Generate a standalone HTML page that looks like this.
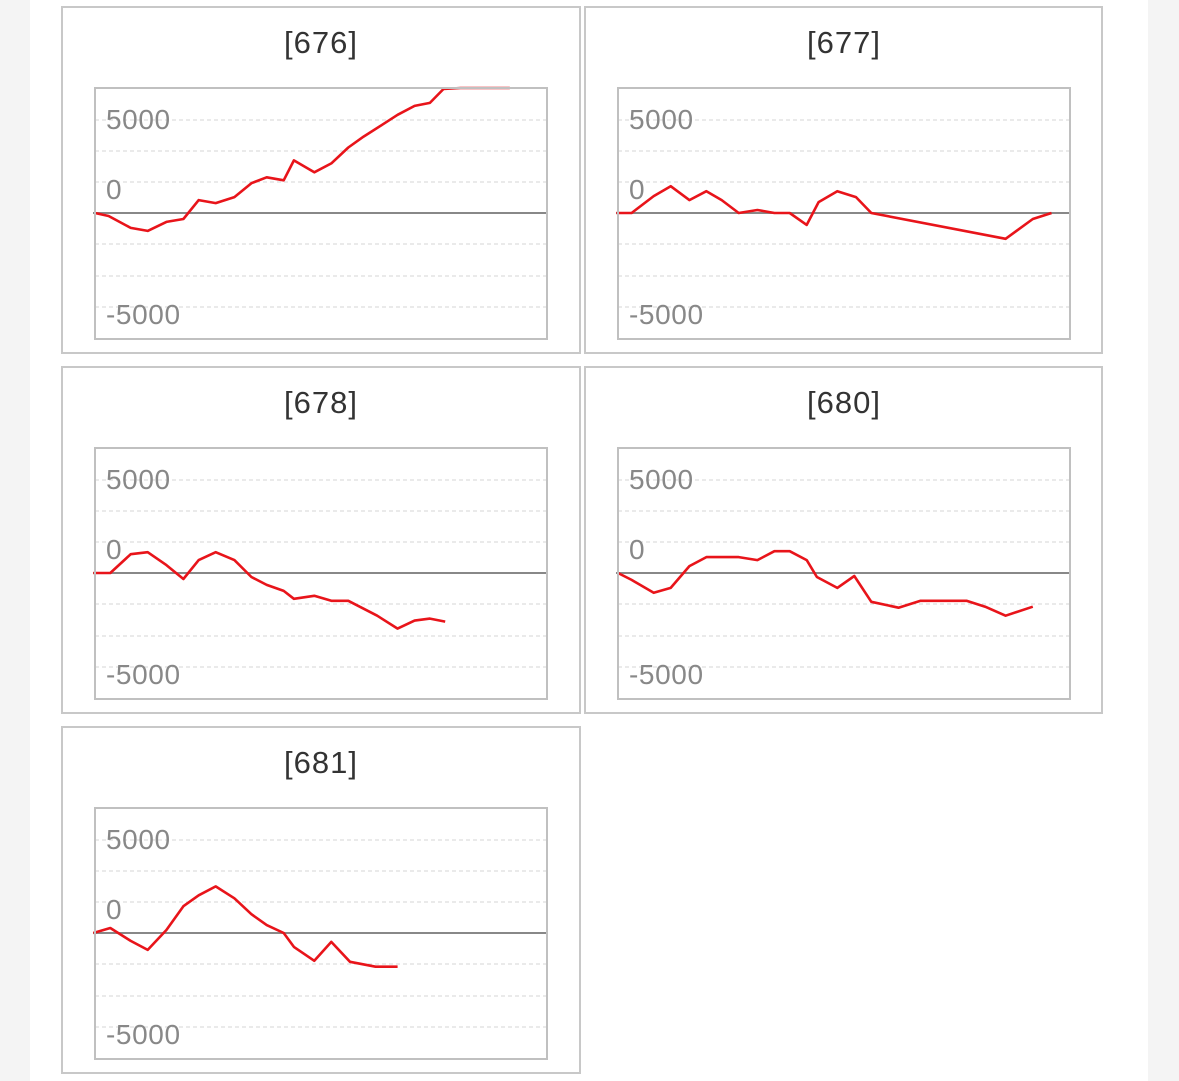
<!DOCTYPE html>
<html><head><meta charset="utf-8">
<style>
html,body{margin:0;padding:0;}
body{width:1179px;height:1081px;background:#f4f4f4;position:relative;overflow:hidden;font-family:"Liberation Sans",sans-serif;}
#main{position:absolute;left:30px;top:0;width:1118px;height:1081px;background:#fff;}
</style></head>
<body>
<div id="main"></div>
<svg id="svg" width="1179" height="1081" style="position:absolute;left:0;top:0"></svg>
<script>
const titles = ["[676]","[677]","[678]","[680]","[681]"];
const tickLabels = ["5000","0","-5000"];
const days676 = [0,0.8,2.1,3.1,4.2,5.2,6.1,7.1,8.2,9.2,10.1,11.1,11.7,12.9,13.9,14.9,15.8,16.9,17.8,18.8,19.7,20.5,21.5,22.5,23.5,24.4];
const vals676 = [0,-240,-1200,-1440,-720,-480,1040,800,1280,2400,2880,2640,4240,3280,4000,5280,6160,7120,7920,8640,8880,10000,10640,11040,11440,11600];
const days677 = [-0.1,0.8,2.1,3.1,4.2,5.2,6.1,7.1,8.2,9.2,10.1,11.1,11.8,12.9,14,14.9,22.8,24.4,25.5];
const vals677 = [0,0,1360,2160,1040,1760,1040,0,240,0,0,-960,880,1760,1280,0,-2080,-480,0];
const days678 = [-0.1,0.9,2.1,3.1,4.2,5.2,6.1,7.1,8.2,9.2,10.1,11.1,11.7,12.9,13.9,14.9,15.8,16.6,17.8,18.8,19.7,20.6];
const vals678 = [0,0,1520,1680,640,-480,1040,1680,1040,-320,-960,-1440,-2080,-1840,-2240,-2240,-2880,-3440,-4480,-3840,-3680,-3920];
const days680 = [0,0.8,2.1,3.1,4.2,5.2,7.1,8.2,9.2,10.1,11.1,11.7,12.9,13.9,14.9,16.5,17.8,20.5,21.6,22.8,24.4];
const vals680 = [0,-560,-1600,-1200,560,1280,1280,1040,1760,1760,1040,-320,-1200,-240,-2320,-2800,-2240,-2240,-2720,-3440,-2720];
const days681 = [-0.1,0.9,2.1,3.1,4.2,5.2,6.1,7.1,8.2,9.2,10.1,11.1,11.7,12.9,13.9,15,16.5,17.8];
const vals681 = [0,400,-640,-1360,240,2160,3040,3760,2800,1520,640,0,-1120,-2240,-720,-2320,-2720,-2720];

const series = [[days676,vals676],[days677,vals677],[days678,vals678],[days680,vals680],[days681,vals681]];
const NS="http://www.w3.org/2000/svg";
const svg=document.getElementById('svg');
function mk(tag,attrs,parent){const e=document.createElementNS(NS,tag);for(const k in attrs)e.setAttribute(k,attrs[k]);(parent||svg).appendChild(e);return e;}
const panelPos=[[61,6],[584,6],[61,366],[584,366],[61,726]];
const PW=[520,519,520,519,520];
series.forEach((s,i)=>{
  const [px,py]=panelPos[i];
  const g=mk('g',{});
  
  
  const box=mk('rect',{x:px+1,y:py+1,width:PW[i]-2,height:346,fill:'#fff',stroke:'#c8c8c8','stroke-width':2},g);
  
  
  const t=mk('text',{x:px+260,y:py+47,'text-anchor':'middle','font-size':31,'letter-spacing':1,fill:'#333'},g);
  t.textContent=titles[i];
  
  
  const L=px+34,T=py+82,W=452,H=251;
  const zeroY=T+125;
  const yScale=v=>Math.max(T,zeroY-v*0.0124);
  const xScale=d=>L+d*17;
  [32,63,94,156,188,219].forEach(o=>{
    const gl=mk('line',{x1:L,x2:L+W,y1:T+o,y2:T+o,stroke:'#d4d4d4','stroke-width':1,'stroke-dasharray':'4,3'},g);
    
    
  });
  [[tickLabels[0],41],[tickLabels[1],111],[tickLabels[2],236]].forEach(([lab,o])=>{
    const tl=mk('text',{x:L+11,y:T+o,'font-size':28,'letter-spacing':0.6,fill:'#888'},g);
    tl.textContent=lab;
    
    
  });
  const za=mk('line',{x1:L-2,x2:L+W,y1:zeroY,y2:zeroY,stroke:'#888','stroke-width':2},g);
  
  
  const pts=s[0].map((d,j)=>xScale(d).toFixed(1)+','+yScale(s[1][j]).toFixed(1)).join(' ');
  const ln=mk('polyline',{points:pts,fill:'none',stroke:'#e8141a','stroke-width':2.6,'stroke-linejoin':'round'},g);
  
  
  const pb=mk('rect',{x:L,y:T,width:W,height:H,fill:'none',stroke:'#c0c0c0','stroke-width':2},g);
  
  
});
</script>
</body></html>
